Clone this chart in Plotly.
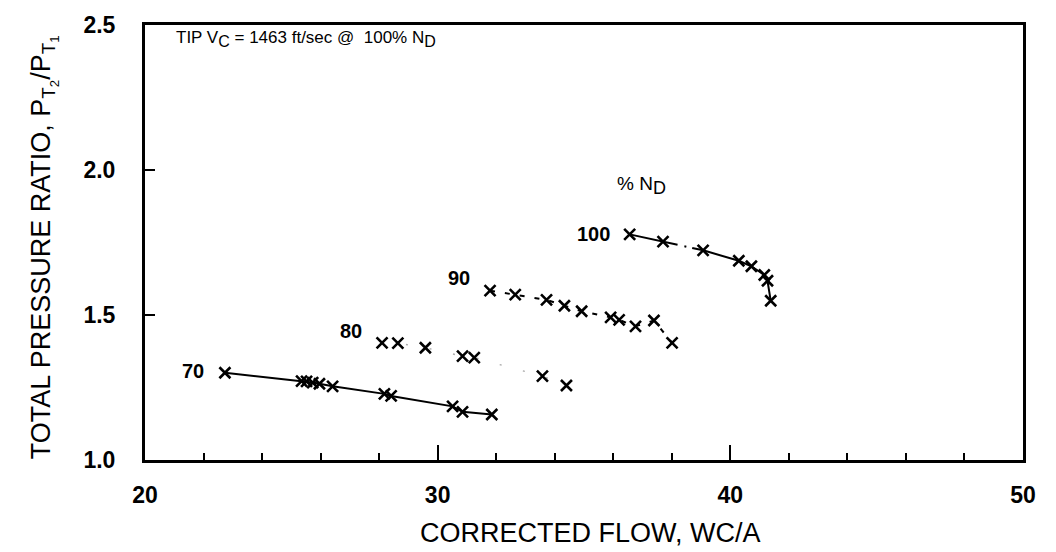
import plotly.graph_objects as go

# Compressor speed lines: corrected flow vs total pressure ratio
flow_70 = [22.73, 25.35, 25.52, 25.73, 25.96, 26.41, 28.18, 28.41, 30.51, 30.85, 31.85]
pr_70 = [1.301, 1.272, 1.271, 1.267, 1.263, 1.254, 1.228, 1.221, 1.185, 1.166, 1.157]

flow_80 = [28.10, 28.64, 29.58, 30.85, 31.25, 33.58, 34.40]
pr_80 = [1.404, 1.403, 1.387, 1.358, 1.353, 1.289, 1.257]

flow_90 = [31.79, 32.65, 33.72, 34.33, 34.92, 35.91, 36.20, 36.76, 37.39, 38.01]
pr_90 = [1.584, 1.570, 1.552, 1.532, 1.513, 1.492, 1.483, 1.461, 1.481, 1.404]

flow_100 = [36.56, 37.70, 39.07, 40.29, 40.72, 41.16, 41.27, 41.38]
pr_100 = [1.778, 1.753, 1.723, 1.687, 1.668, 1.638, 1.618, 1.549]

speed_labels = ["70", "80", "90", "100"]
x_ticks = [20, 30, 40, 50]
y_ticks = [1.0, 1.5, 2.0, 2.5]

FONT = "Liberation Sans, Arial, Helvetica, sans-serif"


def sub(txt, px):
    """Subscript drawn at an explicit pixel size."""
    return f"<sub><span style='font-size:{px}px'>{txt}</span></sub>"


marker = dict(symbol="x-thin", size=11, color="black",
              line=dict(width=2.6, color="black"))

fig = go.Figure()

fig.add_trace(go.Scatter(x=flow_70, y=pr_70, mode="lines+markers",
                         line=dict(color="black", width=2),
                         marker=marker, showlegend=False))
fig.add_trace(go.Scatter(x=flow_80, y=pr_80, mode="lines+markers",
                         line=dict(color="#aaaaaa", width=1.4, dash="2px,22px"),
                         marker=marker, showlegend=False))
fig.add_trace(go.Scatter(x=flow_90, y=pr_90, mode="lines+markers",
                         line=dict(color="black", width=2, dash="5px,10px"),
                         marker=marker, showlegend=False))
fig.add_trace(go.Scatter(x=flow_100, y=pr_100, mode="lines+markers",
                         line=dict(color="black", width=2,
                                   dash="49px,7px,2px,6px,600px"),
                         marker=marker, showlegend=False))

# Speed line labels, placed to the left of each line's first point
label_pos = [(flow_70[0], pr_70[0], -1.1, 0.006),
             (flow_80[0], pr_80[0], -1.05, 0.04),
             (flow_90[0], pr_90[0], -1.05, 0.045),
             (flow_100[0], pr_100[0], -1.25, 0.0)]
for txt, (lx, ly, dx, dy) in zip(speed_labels, label_pos):
    fig.add_annotation(x=lx + dx, y=ly + dy, text=txt, showarrow=False,
                       xanchor="center", yanchor="middle",
                       font=dict(family=FONT, size=20, color="black", weight="bold"))

fig.add_annotation(x=36.95, y=1.945, text="% N" + sub("D", 18), showarrow=False,
                   xanchor="center", yanchor="middle",
                   font=dict(family=FONT, size=19, color="black"))

fig.add_annotation(xref="paper", yref="paper", x=0.033, y=0.998,
                   text="TIP V" + sub("C", 16) + " = 1463 ft/sec @  100% N" + sub("D", 16),
                   showarrow=False, xanchor="left", yanchor="top",
                   font=dict(family=FONT, size=17, color="black"))

# Axis titles
fig.add_annotation(xref="paper", yref="paper", x=0.507, y=-0.167,
                   text="CORRECTED FLOW, WC/A", showarrow=False,
                   xanchor="center", yanchor="middle",
                   font=dict(family=FONT, size=27, color="black"))
fig.add_annotation(xref="paper", yref="paper", x=-0.115, y=0.489,
                   text="TOTAL PRESSURE RATIO, P<sub>T<sub>2</sub></sub>/P<sub>T<sub>1</sub></sub>",
                   textangle=-90, showarrow=False,
                   xanchor="center", yanchor="middle",
                   font=dict(family=FONT, size=27, color="black"))

fig.update_xaxes(range=[20, 50], tickvals=x_ticks, ticktext=[str(v) for v in x_ticks],
                 ticks="inside", ticklen=15, tickwidth=2, tickcolor="black",
                 minor=dict(dtick=2, ticks="inside", ticklen=7, tickwidth=2,
                            tickcolor="black"),
                 ticklabelstandoff=12,
                 showline=True, linewidth=3, linecolor="black", mirror=True,
                 showgrid=False, zeroline=False,
                 tickfont=dict(family=FONT, size=23, color="black", weight="bold"))
fig.update_yaxes(range=[1.0, 2.5], tickvals=y_ticks,
                 ticktext=[f"{v:.1f}" for v in y_ticks],
                 ticks="inside", ticklen=10, tickwidth=2, tickcolor="black",
                 ticklabelstandoff=22,
                 showline=True, linewidth=3, linecolor="black", mirror=True,
                 showgrid=False, zeroline=False,
                 tickfont=dict(family=FONT, size=23, color="black", weight="bold"))

fig.update_layout(width=1056, height=552,
                  margin=dict(l=145, r=33, t=22, b=92),
                  paper_bgcolor="white", plot_bgcolor="white")

fig.write_html("out.html")
